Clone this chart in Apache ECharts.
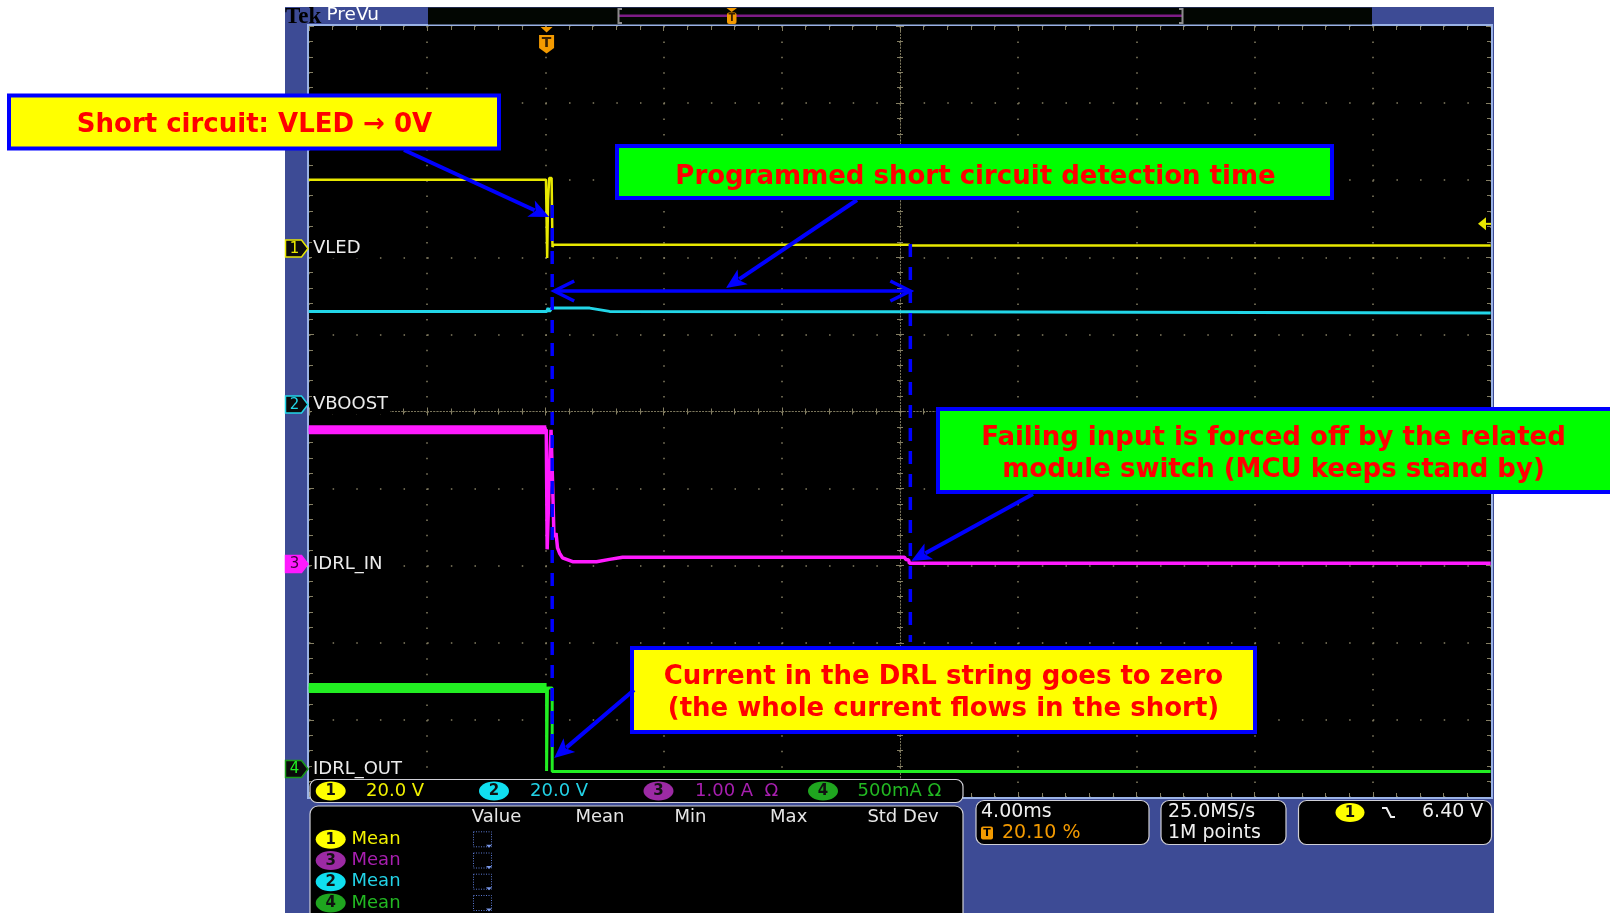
<!DOCTYPE html>
<html><head><meta charset="utf-8">
<script src="https://cdn.jsdelivr.net/npm/echarts@6/dist/echarts.min.js"></script>
<style>html,body{margin:0;padding:0;background:#fff}#c{width:1610px;height:913px}</style>
</head><body><div id="c"></div>
<script>
// ---------------- scope settings ----------------
const timePerDiv = 4;          // ms / div  ("4.00ms")
const triggerPct = 20.10;      // trigger position in record (%)
const hDivs = 10;
const vDivs = 10;

const channelNames = ['VLED', 'VBOOST', 'IDRL_IN', 'IDRL_OUT'];
const channelScales = [20, 20, 1, 0.5];                       // units / div
const channelScaleText = ['20.0 V', '20.0 V', '1.00 A  \u03A9', '500mA \u03A9'];
const channelPositions = [2.114, 0.091, -1.978, -4.637];      // ground marker, divs from centre
const triggerLevel = 6.40;                                    // V on channel 1

// ---------------- traces (time in ms relative to trigger, value in channel units) ----------------
const vledTime   = [-8.05, -0.02, 0.02, 0.05, 0.09, 0.17, 0.20, 0.24, 12.25, 12.32, 31.95];
const vledValue  = [17.85, 17.85, -2.45, 12.6, 18.3, 18.3, 0.4, 1.05, 1.0, 0.78, 0.78];

const vboostTime  = [-8.05, 0, 0.05, 0.10, 0.17, 1.46, 2.13, 12.0, 31.95];
const vboostValue = [24.1, 24.1, 25.0, 24.1, 25.0, 25.0, 24.15, 24.05, 23.75];

const idrlInTime  = [-8.05, -0.01, 0.02, 0.07, 0.15, 0.20, 0.25, 0.32, 0.37, 0.44, 0.54, 0.88, 1.69, 2.13, 2.57, 12.11, 12.16, 12.25, 12.28, 31.95];
const idrlInValue = [1.74, 1.74, 0.19, 0.83, 1.74, 1.09, 0.35, 0.40, 0.21, 0.14, 0.08, 0.03, 0.03, 0.06, 0.087, 0.087, 0.058, 0.052, 0.01, 0.01];

const idrlOutTime  = [-8.05, 0, 0, 0.03, 0.03, 0.19, 0.19, 31.95];
const idrlOutValue = [0.525, 0.525, -0.013, -0.013, 0.525, 0.525, -0.016, -0.016];

// annotation event times (ms after trigger): short-circuit occurrence, end of detection time
const eventTimes = [0.19, 12.31];

// measurement table
const measHeaders = ['Value', 'Mean', 'Min', 'Max', 'Std Dev'];
const measRows = [[1, 'Mean'], [3, 'Mean'], [2, 'Mean'], [4, 'Mean']];

// ---------------- styling ----------------
const C_TRACE = ['#e8e800', '#22d6e8', '#ff1aff', '#22ee22'];
const C_TEXT  = ['#f2f200', '#22d2e6', '#a81fb0', '#22b822'];
const C_BADGE = ['#ffff00', '#10dff0', '#9c2aa4', '#1fa51f'];
const BLUE = '#0000ff', RED = '#ff0000', ORANGE = '#f39a00';
const FRAME = '#3d4b95', FRAMELINE = '#9ab2e6';
const dotC = '#857f63', tickC = '#857f63';
const F = (s, w) => (w ? w + ' ' : '') + s + 'px "DejaVu Sans"';

const xMin = -hDivs * timePerDiv / 2, xMax = hDivs * timePerDiv / 2;
const triggerOffset = xMin + triggerPct / 100 * hDivs * timePerDiv;

function toSeries(times, values, ch) {
  return times.map((t, i) => [t + triggerOffset, channelPositions[ch] + values[i] / channelScales[ch]]);
}

const chart = echarts.init(document.getElementById('c'), null, { renderer: 'canvas', width: 1610, height: 913 });

const tickCommon = { show: true, inside: true, length: 5, lineStyle: { color: tickC, width: 1 } };
const minorCommon = { show: true, splitNumber: 5, length: 4, lineStyle: { color: tickC, width: 1 } };
const centerLine = { show: true, onZero: true, onZeroAxisIndex: 0, lineStyle: { color: '#7b765c', width: 1, type: [1, 2.2] } };

const xBase = { type: 'value', min: xMin, max: xMax, interval: timePerDiv, axisLabel: { show: false }, splitLine: { show: false } };
const yBase = { type: 'value', min: -vDivs / 2, max: vDivs / 2, interval: 1, axisLabel: { show: false }, splitLine: { show: false } };

const trace = (name, data, color, width, z) => ({
  name, type: 'line', data, xAxisIndex: 0, yAxisIndex: 0, symbol: 'none', animation: false, silent: true, z,
  lineStyle: { color, width }, clip: true
});

const d1 = toSeries(vledTime, vledValue, 0);
const d2 = toSeries(vboostTime, vboostValue, 1);
const d3 = toSeries(idrlInTime, idrlInValue, 2);
const d4 = toSeries(idrlOutTime, idrlOutValue, 3);

chart.setOption({
  backgroundColor: '#ffffff',
  animation: false,
  grid: { left: 309, top: 26, width: 1182, height: 771, show: true, backgroundColor: '#000000', borderWidth: 0 },
  xAxis: [
    Object.assign({}, xBase, { position: 'bottom', axisLine: { show: false, onZero: false }, axisTick: tickCommon, minorTick: minorCommon,
      splitLine: { show: true, lineStyle: { color: dotC, width: 1.5, type: [1.5, 13.92] } } }),
    Object.assign({}, xBase, { position: 'top', axisLine: { show: false, onZero: false }, axisTick: tickCommon, minorTick: minorCommon }),
    Object.assign({}, xBase, { position: 'bottom', axisLine: centerLine, axisTick: { show: true, inside: true, length: 4, lineStyle: { color: tickC } },
      minorTick: { show: true, splitNumber: 5, length: 3, lineStyle: { color: tickC } } }),
    Object.assign({}, xBase, { position: 'bottom', axisLine: centerLine, axisTick: { show: true, inside: false, length: 4, lineStyle: { color: tickC } },
      minorTick: { show: true, splitNumber: 5, length: 3, lineStyle: { color: tickC } } })
  ],
  yAxis: [
    Object.assign({}, yBase, { position: 'left', axisLine: { show: false, onZero: false }, axisTick: tickCommon, minorTick: minorCommon,
      splitLine: { show: true, lineStyle: { color: dotC, width: 1.5, type: [1.5, 22.14] } } }),
    Object.assign({}, yBase, { position: 'right', axisLine: { show: false, onZero: false }, axisTick: tickCommon, minorTick: minorCommon }),
    Object.assign({}, yBase, { position: 'left', axisLine: centerLine, axisTick: { show: true, inside: true, length: 4, lineStyle: { color: tickC } },
      minorTick: { show: true, splitNumber: 5, length: 3, lineStyle: { color: tickC } } }),
    Object.assign({}, yBase, { position: 'left', axisLine: centerLine, axisTick: { show: true, inside: false, length: 4, lineStyle: { color: tickC } },
      minorTick: { show: true, splitNumber: 5, length: 3, lineStyle: { color: tickC } } })
  ],
  series: [
    trace('VBOOST', d2, C_TRACE[1], 3, 5),
    trace('VLED', d1, C_TRACE[0], 2.5, 6),
    trace('IDRL_IN', d3, C_TRACE[2], 3.5, 7),
    trace('IDRL_IN band', d3.slice(0, 2), C_TRACE[2], 9, 7),
    trace('IDRL_OUT', d4, C_TRACE[3], 3, 8),
    trace('IDRL_OUT band', d4.slice(0, 2), C_TRACE[3], 10, 8)
  ]
});

// ---------------- overlay graphics ----------------
const els = [];
const px = t => chart.convertToPixel({ xAxisIndex: 0 }, t + triggerOffset);
const py = v => chart.convertToPixel({ yAxisIndex: 0 }, v);

function rect(x, y, w, h, style, z, r) { els.push({ type: 'rect', shape: { x, y, width: w, height: h, r: r || 0 }, style, z: z, silent: true }); }
function text(x, y, t, font, fill, align, z, extra) {
  els.push({ type: 'text', x, y, z: z == null ? 20 : z, silent: true,
    style: Object.assign({ text: t, font, fill, align: align || 'left', verticalAlign: 'middle', textAlign: align || 'left', textVerticalAlign: 'middle' }, extra || {}) });
}
function line(x1, y1, x2, y2, style, z) { els.push({ type: 'line', shape: { x1, y1, x2, y2 }, style, z: z == null ? 20 : z, silent: true }); }
function poly(points, style, z) { els.push({ type: 'polygon', shape: { points }, style, z: z == null ? 20 : z, silent: true }); }
function pline(points, style, z) { els.push({ type: 'polyline', shape: { points }, style, z: z == null ? 20 : z, silent: true }); }
function ellipse(cx, cy, rx, ry, style, z) { els.push({ type: 'ellipse', shape: { cx, cy, rx, ry }, style, z: z == null ? 20 : z, silent: true }); }
function badge(cx, cy, n, z) {
  ellipse(cx, cy, 15, 9.5, { fill: C_BADGE[n - 1] }, z);
  text(cx, cy + 0.5, String(n), F(15, 'bold'), '#111', 'center', (z || 20) + 1);
}
function arrow(x1, y1, x2, y2) {
  const a = Math.atan2(y2 - y1, x2 - x1), hl = 20, hw = 9;
  const bx = x2 - hl * Math.cos(a), by = y2 - hl * Math.sin(a);
  line(x1, y1, bx + 4 * Math.cos(a), by + 4 * Math.sin(a), { stroke: BLUE, lineWidth: 4 }, 60);
  poly([[x2, y2], [bx + hw * Math.sin(a), by - hw * Math.cos(a)], [bx + 5 * Math.cos(a), by + 5 * Math.sin(a)], [bx - hw * Math.sin(a), by + hw * Math.cos(a)]], { fill: BLUE }, 60);
}

// frame
rect(285, 7, 1209, 906, { fill: FRAME }, -10);
rect(308, 25, 1184, 773, { fill: null, stroke: FRAMELINE, lineWidth: 2 }, 3);
// header
text(285, 17, 'Tek', 'bold 23px "Liberation Serif"', '#000', 'left', 5);
text(326.5, 15.5, 'PreVu', F(18.5), '#ffffff', 'left', 5);
rect(428, 7.5, 944, 17, { fill: '#020602' }, 4);
line(619, 15.7, 1182, 15.7, { stroke: '#7e1c86', lineWidth: 2.5 }, 5);
pline([[622, 9], [618.5, 9], [618.5, 23], [622, 23]], { stroke: '#8c8c8c', lineWidth: 2, fill: null }, 6);
pline([[1179, 9], [1182.5, 9], [1182.5, 23], [1179, 23]], { stroke: '#8c8c8c', lineWidth: 2, fill: null }, 6);
poly([[726.5, 8], [737, 8], [731.7, 12]], { fill: ORANGE }, 6);
rect(727, 12.5, 9.5, 11.5, { fill: ORANGE }, 6, 2);
text(731.8, 18.5, 'T', F(10, 'bold'), '#3a2000', 'center', 7);

// trigger marker at grid top
const tx = px(0);
poly([[tx - 6, 27], [tx + 6, 27], [tx, 32.5]], { fill: ORANGE }, 30);
poly([[tx - 7.5, 35], [tx + 7.5, 35], [tx + 7.5, 48], [tx, 53.5], [tx - 7.5, 48]], { fill: ORANGE }, 30);
text(tx, 43, 'T', F(14, 'bold'), '#3a2000', 'center', 31);

// trigger level arrow (right)
const ty = py(channelPositions[0] + triggerLevel / channelScales[0]);
poly([[1478, ty], [1486, ty - 6.5], [1486, ty + 6.5]], { fill: C_TRACE[0] }, 30);
line(1485, ty, 1491, ty, { stroke: C_TRACE[0], lineWidth: 2 }, 30);

// channel ground markers + labels
channelNames.forEach((nm, i) => {
  const y = py(channelPositions[i]);
  const filled = i === 2;
  poly([[285.5, y - 8.5], [301.5, y - 8.5], [308, y], [301.5, y + 8.5], [285.5, y + 8.5]],
    { fill: filled ? C_TRACE[2] : '#0a0a0a', stroke: i === 3 ? '#1a9a1a' : C_TRACE[i], lineWidth: 1.5 }, 30);
  text(294.5, y + 0.5, String(i + 1), F(15), filled ? '#3a003a' : C_TRACE[i], 'center', 31);
  text(312, y, nm, F(18), '#ececec', 'left', 31, { backgroundColor: '#000', padding: [1, 2, 1, 1] });
});

// bottom channel readout row
rect(310, 779.5, 653, 23, { fill: '#000', stroke: '#cfcfd6', lineWidth: 1.2 }, 40, 7);
const badgeX = [330.7, 494, 658.5, 823];
const scaleX = [366, 530, 695, 857.6];
for (let i = 0; i < 4; i++) {
  badge(badgeX[i], 791, i + 1, 41);
  text(scaleX[i], 791, channelScaleText[i], F(18), C_TEXT[i], 'left', 41);
}
// measurement panel
rect(310, 806, 653, 130, { fill: '#000', stroke: '#cfcfd6', lineWidth: 1.2 }, 40, 8);
const headX = [496.5, 600, 690.5, 788.7, 903];
measHeaders.forEach((h, i) => text(headX[i], 817.3, h, F(18), '#e6e6e6', 'center', 41));
const rowY = [839.3, 860.5, 881.7, 903];
measRows.forEach((r, i) => {
  const ch = r[0];
  badge(330.7, rowY[i], ch, 41);
  text(351.5, rowY[i], r[1], F(18), C_TEXT[ch - 1], 'left', 41);
  rect(473.5, rowY[i] - 7.5, 18, 15, { fill: null, stroke: '#5a78d0', lineWidth: 1, lineDash: [1, 1.5] }, 41);
  poly([[486, rowY[i] + 5.5], [492, rowY[i] + 5.5], [489, rowY[i] + 8.5]], { fill: '#7a98e8' }, 42);
});
// right info boxes
rect(976, 800.5, 173, 44, { fill: '#000', stroke: '#cfcfd6', lineWidth: 1.2 }, 40, 8);
rect(1161, 800.5, 125, 44, { fill: '#000', stroke: '#cfcfd6', lineWidth: 1.2 }, 40, 8);
rect(1298.5, 800.5, 193, 44, { fill: '#000', stroke: '#cfcfd6', lineWidth: 1.2 }, 40, 8);
text(981, 812.5, timePerDiv.toFixed(2) + 'ms', F(19), '#f0f0f0', 'left', 41);
rect(981, 826.5, 12, 13, { fill: ORANGE }, 41, 2);
text(987, 833.5, 'T', F(11, 'bold'), '#000', 'center', 42);
text(1002, 833, triggerPct.toFixed(2) + ' %', F(19), ORANGE, 'left', 41);
text(1168, 812.5, '25.0MS/s', F(19), '#f0f0f0', 'left', 41);
text(1168, 833, '1M points', F(19), '#f0f0f0', 'left', 41);
ellipse(1350, 812.5, 14.5, 9.5, { fill: C_BADGE[0] }, 41);
text(1350, 813, '1', F(15, 'bold'), '#111', 'center', 42);
pline([[1382, 808], [1386.5, 808], [1391, 817], [1395, 817]], { stroke: '#f0f0f0', lineWidth: 2, fill: null }, 41);
text(1422, 812.5, triggerLevel.toFixed(2) + ' V', F(19), '#f0f0f0', 'left', 41);

// ---------------- annotations ----------------
const xShort = px(eventTimes[0]), xDetect = px(eventTimes[1]);
line(xShort, 205, xShort, 752, { stroke: BLUE, lineWidth: 3.5, lineDash: [13, 10] }, 55);
line(xDetect, 244, xDetect, 642, { stroke: BLUE, lineWidth: 3.5, lineDash: [13, 10] }, 55);
// double arrow for detection time
const yDA = 291;
line(xShort + 2, yDA, xDetect, yDA, { stroke: BLUE, lineWidth: 3.5 }, 55);
pline([[xShort + 22, yDA - 10], [xShort + 2, yDA], [xShort + 22, yDA + 10]], { stroke: BLUE, lineWidth: 3.5, fill: null }, 55);
pline([[xDetect - 20, yDA - 10], [xDetect, yDA], [xDetect - 20, yDA + 10]], { stroke: BLUE, lineWidth: 3.5, fill: null }, 55);

const AFONT = F(26, 'bold');
rect(9, 95.5, 490, 53, { fill: '#ffff00', stroke: BLUE, lineWidth: 4 }, 60);
text(254.5, 125, 'Short circuit: VLED \u2192 0V', AFONT, RED, 'center', 61);
rect(617, 146, 715, 52, { fill: '#00ff00', stroke: BLUE, lineWidth: 4 }, 60);
text(975.5, 177, 'Programmed short circuit detection time', AFONT, RED, 'center', 61);
rect(938, 409, 680, 83, { fill: '#00ff00', stroke: BLUE, lineWidth: 4 }, 60);
text(1273.5, 438.5, 'Failing input is forced off by the related', AFONT, RED, 'center', 61);
text(1273.5, 470, 'module switch (MCU keeps stand by)', AFONT, RED, 'center', 61);
rect(632, 648, 623, 84, { fill: '#ffff00', stroke: BLUE, lineWidth: 4 }, 60);
text(943.5, 677.5, 'Current in the DRL string goes to zero', AFONT, RED, 'center', 61);
text(943.5, 709.5, '(the whole current flows in the short)', AFONT, RED, 'center', 61);

arrow(404, 150, xShort - 3, 217);
arrow(857, 200, 726, 288);
arrow(1033, 494, xDetect + 1, 561);
arrow(634, 690, xShort + 2, 758);

chart.setOption({ graphic: { elements: els } });
</script>
</body></html>
